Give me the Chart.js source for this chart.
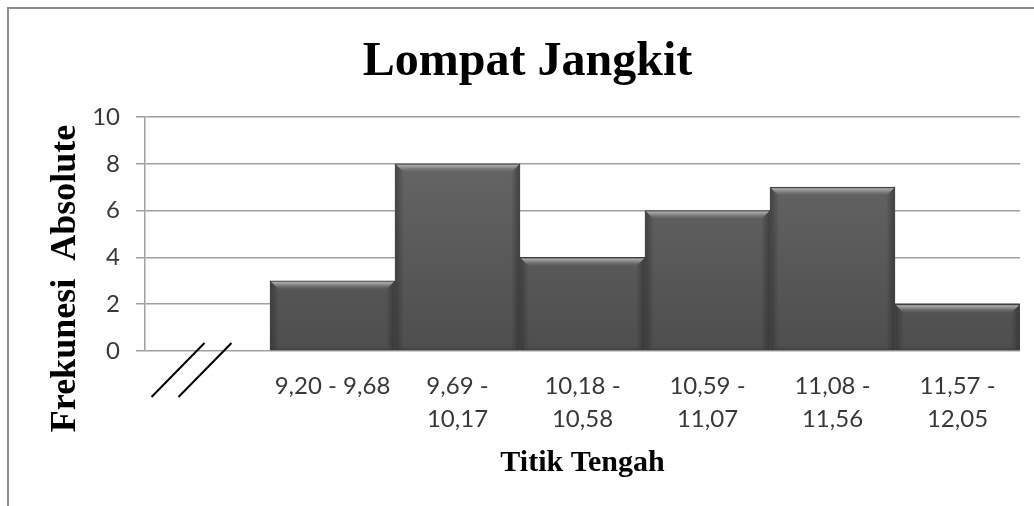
<!DOCTYPE html>
<html><head><meta charset="utf-8">
<script src="https://cdn.jsdelivr.net/npm/chart.js"></script>
<style>html,body{margin:0;padding:0;background:#fff;}canvas{display:block;}</style>
</head><body>
<canvas id="c" width="1034" height="506"></canvas>
<script>
const chartTitle = 'Lompat Jangkit';
const xAxisTitle = 'Titik Tengah';
const yAxisTitle = 'Frekunesi  Absolute';
const categories = ['', '9,20 - 9,68', ['9,69 -', '10,17'], ['10,18 -', '10,58'], ['10,59 -', '11,07'], ['11,08 -', '11,56'], ['11,57 -', '12,05']];
const frequencies = [null, 3, 8, 4, 6, 7, 2];
const yMin = 0, yMax = 10, yStep = 2;

const framePlugin = {
  id: 'frame',
  beforeDraw(chart) {
    const ctx = chart.ctx;
    ctx.save();
    ctx.fillStyle = '#fff';
    ctx.fillRect(0, 0, chart.width, chart.height);
    ctx.strokeStyle = '#8c8c8c';
    ctx.lineWidth = 2;
    ctx.beginPath();
    ctx.moveTo(8, chart.height);
    ctx.lineTo(8, 8);
    ctx.lineTo(chart.width, 8);
    ctx.stroke();
    ctx.restore();
  }
};

const bevelPlugin = {
  id: 'bevel',
  afterDatasetsDraw(chart) {
    const ctx = chart.ctx;
    const meta = chart.getDatasetMeta(0);
    meta.data.forEach((bar, i) => {
      if (frequencies[i] == null) return;
      const p = bar.getProps(['x', 'y', 'base', 'width'], true);
      const l = p.x - p.width / 2, r = p.x + p.width / 2, t = p.y, b = p.base;
      const d = 9;
      ctx.save();
      let g = ctx.createLinearGradient(0, t, 0, t + d);
      g.addColorStop(0, '#bcbcbc');
      g.addColorStop(0.35, '#949494');
      g.addColorStop(1, 'rgba(104,104,104,0.0)');
      ctx.fillStyle = g;
      ctx.beginPath();
      ctx.moveTo(l + 1, t + 1);
      ctx.lineTo(r - 1, t + 1);
      ctx.lineTo(r - d, t + d);
      ctx.lineTo(l + d, t + d);
      ctx.closePath();
      ctx.fill();
      g = ctx.createLinearGradient(l, 0, l + d, 0);
      g.addColorStop(0, 'rgba(40,40,40,0.55)');
      g.addColorStop(1, 'rgba(40,40,40,0)');
      ctx.fillStyle = g;
      ctx.beginPath();
      ctx.moveTo(l + 1, t + 1);
      ctx.lineTo(l + d, t + d);
      ctx.lineTo(l + d, b - 3);
      ctx.lineTo(l + 1, b);
      ctx.closePath();
      ctx.fill();
      g = ctx.createLinearGradient(r, 0, r - d, 0);
      g.addColorStop(0, 'rgba(40,40,40,0.6)');
      g.addColorStop(1, 'rgba(40,40,40,0)');
      ctx.fillStyle = g;
      ctx.beginPath();
      ctx.moveTo(r - 1, t + 1);
      ctx.lineTo(r - d, t + d);
      ctx.lineTo(r - d, b - 3);
      ctx.lineTo(r - 1, b);
      ctx.closePath();
      ctx.fill();
      g = ctx.createLinearGradient(0, b, 0, b - 4);
      g.addColorStop(0, 'rgba(50,50,50,0.5)');
      g.addColorStop(1, 'rgba(50,50,50,0)');
      ctx.fillStyle = g;
      ctx.fillRect(l + 1, b - 4, p.width - 2, 4);
      ctx.restore();
    });
  }
};

const extrasPlugin = {
  id: 'extras',
  afterDraw(chart) {
    const ctx = chart.ctx;
    const xs = chart.scales.x, ys = chart.scales.y;
    const cx = xs.getPixelForValue(0);
    const y0 = ys.getPixelForValue(0);
    ctx.save();
    ctx.strokeStyle = '#000';
    ctx.lineWidth = 2;
    ctx.beginPath();
    ctx.moveTo(cx - 56, y0 + 46);
    ctx.lineTo(cx - 3, y0 - 8);
    ctx.moveTo(cx - 29, y0 + 46);
    ctx.lineTo(cx + 24, y0 - 8);
    ctx.stroke();
    ctx.translate(66, 278.5);
    ctx.rotate(-Math.PI / 2);
    ctx.fillStyle = '#000';
    ctx.font = 'bold 36px "Liberation Serif", "Times New Roman", serif';
    ctx.textAlign = 'center';
    ctx.textBaseline = 'middle';
    ctx.fillText(yAxisTitle, 0, 0);
    ctx.restore();
  }
};

new Chart(document.getElementById('c'), {
  type: 'bar',
  data: {
    labels: categories,
    datasets: [{
      data: frequencies,
      backgroundColor: (context) => {
        const { chart } = context;
        const { ctx, chartArea } = chart;
        if (!chartArea) return '#5a5a5a';
        const g = ctx.createLinearGradient(0, chartArea.top, 0, chartArea.bottom);
        g.addColorStop(0, '#6a6a6a');
        g.addColorStop(1, '#4e4e4e');
        return g;
      },
      borderColor: '#3a3a3a',
      borderWidth: 1,
      barPercentage: 1,
      categoryPercentage: 1
    }]
  },
  options: {
    responsive: false,
    animation: false,
    devicePixelRatio: 1,
    layout: { padding: { left: 35, right: 14, top: 0, bottom: 0 } },
    plugins: {
      legend: { display: false },
      tooltip: { enabled: false },
      title: {
        display: true,
        text: chartTitle,
        color: '#000',
        font: { family: '"Liberation Serif", "Times New Roman", serif', size: 48, weight: 'bold', lineHeight: 1.2 },
        padding: { top: 33.6, bottom: 25.8 }
      }
    },
    scales: {
      x: {
        grid: { display: false, drawTicks: false },
        border: { display: false },
        ticks: {
          color: '#383838',
          font: { family: 'Lato, "Noto Sans", sans-serif', size: 24, lineHeight: 1.375 },
          padding: 19,
          maxRotation: 0,
          autoSkip: false
        },
        title: {
          display: true,
          text: xAxisTitle,
          color: '#000',
          font: { family: '"Liberation Serif", "Times New Roman", serif', size: 30, weight: 'bold', lineHeight: 1.2 },
          padding: { top: 0, bottom: 25 }
        },
        afterFit: (s) => { s.height = 155; }
      },
      y: {
        min: yMin,
        max: yMax,
        ticks: {
          stepSize: yStep,
          color: '#383838',
          font: { family: 'Lato, "Noto Sans", sans-serif', size: 24 },
          padding: 16
        },
        grid: { color: '#a0a0a0', lineWidth: 1.5, tickLength: 9, drawTicks: true },
        border: { display: true, color: '#a0a0a0', width: 1.5 },
        afterFit: (s) => { s.width = 110; }
      }
    }
  },
  plugins: [framePlugin, bevelPlugin, extrasPlugin]
});
</script>
</body></html>
